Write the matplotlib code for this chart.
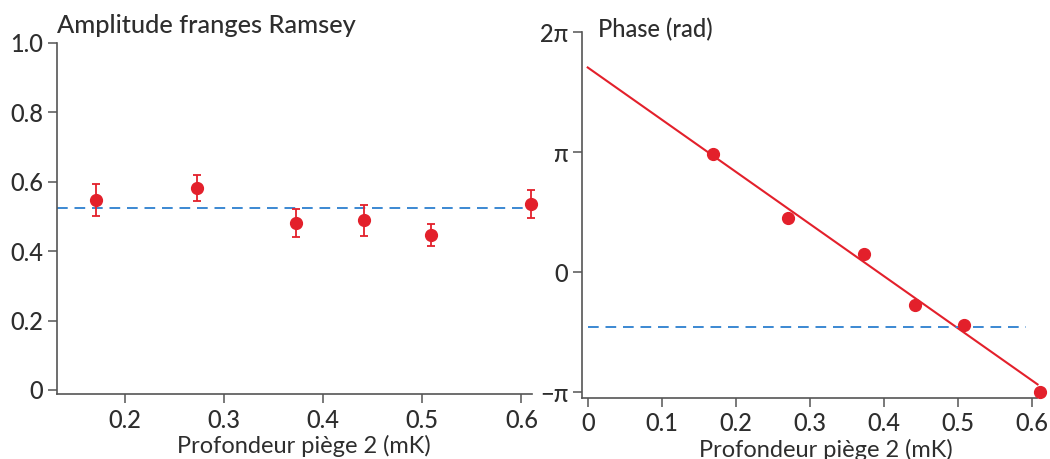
import numpy as np
import matplotlib
matplotlib.use('Agg')
import matplotlib.pyplot as plt

# data
amp_x = [0.171, 0.273, 0.373, 0.441, 0.509, 0.610]
amp_y = [0.547, 0.582, 0.480, 0.488, 0.446, 0.536]
amp_err = [0.045, 0.038, 0.040, 0.045, 0.032, 0.040]
amp_mean = 0.523

# phase in units of pi
phase_x = [0.169, 0.271, 0.373, 0.442, 0.508, 0.611]
phase_y = [0.986, 0.456, 0.149, -0.271, -0.436, -0.994]
fit_intercept = 1.707
fit_slope = -4.344
fit_xmax = 0.608
phase_ref = -0.456
phase_ref_xmax = 0.593

amp_ticks = [0, 0.2, 0.4, 0.6, 0.8, 1.0]
amp_ticklabels = ['0', '0.2', '0.4', '0.6', '0.8', '1.0']
phase_ticks = [-1, 0, 1, 2]
phase_ticklabels = ['\u2212\u03c0', '0', '\u03c0', '2\u03c0']

red = '#e3202b'
blue = '#3b88d2'
txt = '#2e2e2e'
spine = '#555555'
fs = 17

plt.rcParams['font.family'] = ['Lato', 'DejaVu Sans']
plt.rcParams['font.weight'] = 'medium'
plt.rcParams['text.color'] = txt
plt.rcParams['xtick.color'] = spine
plt.rcParams['ytick.color'] = spine
plt.rcParams['xtick.labelcolor'] = txt
plt.rcParams['ytick.labelcolor'] = txt

fig = plt.figure(figsize=(10.5, 4.59), dpi=100)
ax1 = fig.add_axes([0.0546, 0.1410, 0.4521, 0.7660])
ax2 = fig.add_axes([0.5543, 0.1336, 0.4330, 0.7960])

for ax in (ax1, ax2):
    ax.spines['top'].set_visible(False)
    ax.spines['right'].set_visible(False)
    for s in ('left', 'bottom'):
        ax.spines[s].set_color(spine)
        ax.spines[s].set_linewidth(1.2)
    ax.tick_params(direction='out', length=6.5, width=1.1, labelsize=fs)
    ax.tick_params(axis='x', pad=4)
    ax.tick_params(axis='y', pad=3.5)
    ax.set_xlabel('Profondeur pi\u00e8ge 2 (mK)', fontsize=fs, color=txt)

# left panel: amplitude
ax1.plot([0.132, 0.6107], [amp_mean, amp_mean], color=blue, lw=1.4,
         dashes=(5.5, 3.5), clip_on=False, zorder=2)
ax1.errorbar(amp_x, amp_y, yerr=amp_err, fmt='o', color=red, ms=8.5,
             elinewidth=1.3, capsize=3.2, capthick=1.3, clip_on=False, zorder=3)
ax1.set_xlim(0.132, 0.6107)
ax1.set_ylim(-0.0124, 1.0)
ax1.set_xticks([0.2, 0.3, 0.4, 0.5, 0.6])
ax1.set_xticklabels(['0.2', '0.3', '0.4', '0.5', '0.6'])
ax1.set_yticks(amp_ticks)
ax1.set_yticklabels(amp_ticklabels)
ax1.xaxis.set_label_coords(0.52, -0.115)
fig.text(57 / 1050, 1 - 33 / 459, 'Amplitude franges Ramsey', fontsize=18.3,
         va='baseline', ha='left', color=txt)

# right panel: phase
fx = np.array([0.0, fit_xmax])
ax2.plot(fx, fit_intercept + fit_slope * fx, color=red, lw=1.5, clip_on=False, zorder=2)
ax2.plot([0.0, phase_ref_xmax], [phase_ref, phase_ref], color=blue, lw=1.4,
         dashes=(5.5, 3.5), zorder=2)
ax2.plot(phase_x, phase_y, 'o', color=red, ms=8.5, clip_on=False, zorder=3)
ax2.set_xlim(-0.0077, 0.6068)
ax2.set_ylim(-1.045, 2.0)
ax2.set_xticks([0, 0.1, 0.2, 0.3, 0.4, 0.5, 0.6])
ax2.set_xticklabels(['0', '0.1', '0.2', '0.3', '0.4', '0.5', '0.6'])
ax2.set_yticks(phase_ticks)
ax2.set_yticklabels(phase_ticklabels)
ax2.xaxis.set_label_coords(0.537, -0.112)
fig.text(598 / 1050, 1 - 37 / 459, 'Phase (rad)', fontsize=fs,
         va='baseline', ha='left', color=txt)

fig.savefig('out.png', dpi=100)
